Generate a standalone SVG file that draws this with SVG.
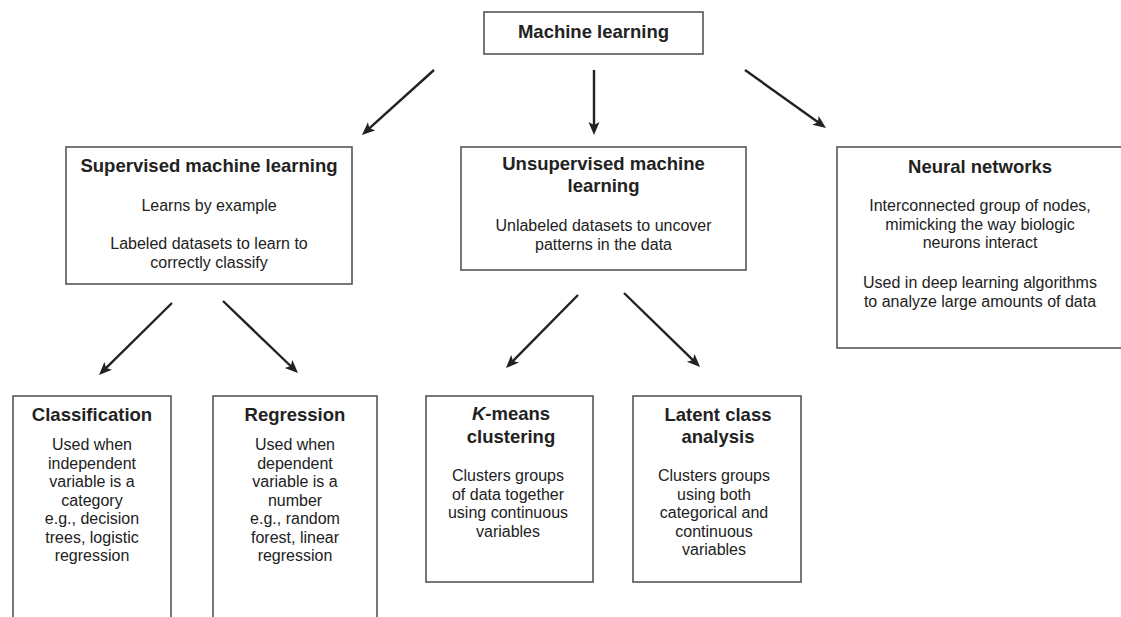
<svg xmlns="http://www.w3.org/2000/svg" width="1121" height="617" viewBox="0 0 1121 617">
<style>
.box{fill:#fff;stroke:#555;stroke-width:1.6}
.t{font-family:"Liberation Sans",Arial,sans-serif;font-size:18.5px;font-weight:bold;fill:#222;text-anchor:middle}
.b{font-family:"Liberation Sans",Arial,sans-serif;font-size:16px;fill:#222;text-anchor:middle}
.arr{stroke:#222;stroke-width:2.4;fill:none;marker-end:url(#ah)}
</style>
<defs>
<marker id="ah" markerUnits="userSpaceOnUse" markerWidth="14" markerHeight="12" refX="5" refY="5.5" orient="auto">
<path d="M0,0 L13,5.5 L0,11 L3,5.5 z" fill="#222"/>
</marker>
</defs>
<rect width="1121" height="617" fill="#fff"/>
<g id="connectors">
<line class="arr" x1="434" y1="70" x2="367.9" y2="129.6"/>
<line class="arr" x1="594" y1="70" x2="594" y2="127"/>
<line class="arr" x1="745" y1="70" x2="819.5" y2="123.3"/>
<line class="arr" x1="172" y1="303" x2="104.7" y2="369.4"/>
<line class="arr" x1="223" y1="301" x2="292.2" y2="367.5"/>
<line class="arr" x1="578" y1="295" x2="511.6" y2="362.3"/>
<line class="arr" x1="624" y1="293" x2="694.3" y2="361.4"/>
</g>
<g id="machine-learning">
<rect class="box" x="484" y="12" width="219" height="42"/>
<text class="t" x="593.5" y="38">Machine learning</text>
</g>
<g id="supervised">
<rect class="box" x="66" y="147" width="286" height="137"/>
<text class="t" x="209" y="172">Supervised machine learning</text>
<text class="b" x="209" y="211">Learns by example</text>
<text class="b" x="209" y="249">Labeled datasets to learn to</text>
<text class="b" x="209" y="267.5">correctly classify</text>
</g>
<g id="unsupervised">
<rect class="box" x="461" y="147" width="285" height="123"/>
<text class="t" x="603.5" y="170">Unsupervised machine</text>
<text class="t" x="603.5" y="192">learning</text>
<text class="b" x="603.5" y="231">Unlabeled datasets to uncover</text>
<text class="b" x="603.5" y="249.5">patterns in the data</text>
</g>
<g id="neural-networks">
<rect class="box" x="837" y="147" width="290" height="201"/>
<text class="t" x="980" y="173">Neural networks</text>
<text class="b" x="980" y="211">Interconnected group of nodes,</text>
<text class="b" x="980" y="229.5">mimicking the way biologic</text>
<text class="b" x="980" y="248">neurons interact</text>
<text class="b" x="980" y="288">Used in deep learning algorithms</text>
<text class="b" x="980" y="306.5">to analyze large amounts of data</text>
</g>
<g id="classification">
<rect class="box" x="13" y="396" width="158" height="240"/>
<text class="t" x="92" y="421">Classification</text>
<text class="b" x="92" y="450">Used when</text>
<text class="b" x="92" y="468.5">independent</text>
<text class="b" x="92" y="487">variable is a</text>
<text class="b" x="92" y="505.5">category</text>
<text class="b" x="92" y="524">e.g., decision</text>
<text class="b" x="92" y="542.5">trees, logistic</text>
<text class="b" x="92" y="561">regression</text>
</g>
<g id="regression">
<rect class="box" x="213" y="396" width="164" height="240"/>
<text class="t" x="295" y="421">Regression</text>
<text class="b" x="295" y="450">Used when</text>
<text class="b" x="295" y="468.5">dependent</text>
<text class="b" x="295" y="487">variable is a</text>
<text class="b" x="295" y="505.5">number</text>
<text class="b" x="295" y="524">e.g., random</text>
<text class="b" x="295" y="542.5">forest, linear</text>
<text class="b" x="295" y="561">regression</text>
</g>
<g id="k-means">
<rect class="box" x="426" y="396" width="167" height="186"/>
<text class="t" x="511" y="420"><tspan font-style="italic">K</tspan>-means</text>
<text class="t" x="511" y="443">clustering</text>
<text class="b" x="508" y="481">Clusters groups</text>
<text class="b" x="508" y="499.5">of data together</text>
<text class="b" x="508" y="518">using continuous</text>
<text class="b" x="508" y="536.5">variables</text>
</g>
<g id="latent-class">
<rect class="box" x="633" y="396" width="168" height="186"/>
<text class="t" x="718" y="421">Latent class</text>
<text class="t" x="718" y="443">analysis</text>
<text class="b" x="714" y="481">Clusters groups</text>
<text class="b" x="714" y="499.5">using both</text>
<text class="b" x="714" y="518">categorical and</text>
<text class="b" x="714" y="536.5">continuous</text>
<text class="b" x="714" y="555">variables</text>
</g>
</svg>
